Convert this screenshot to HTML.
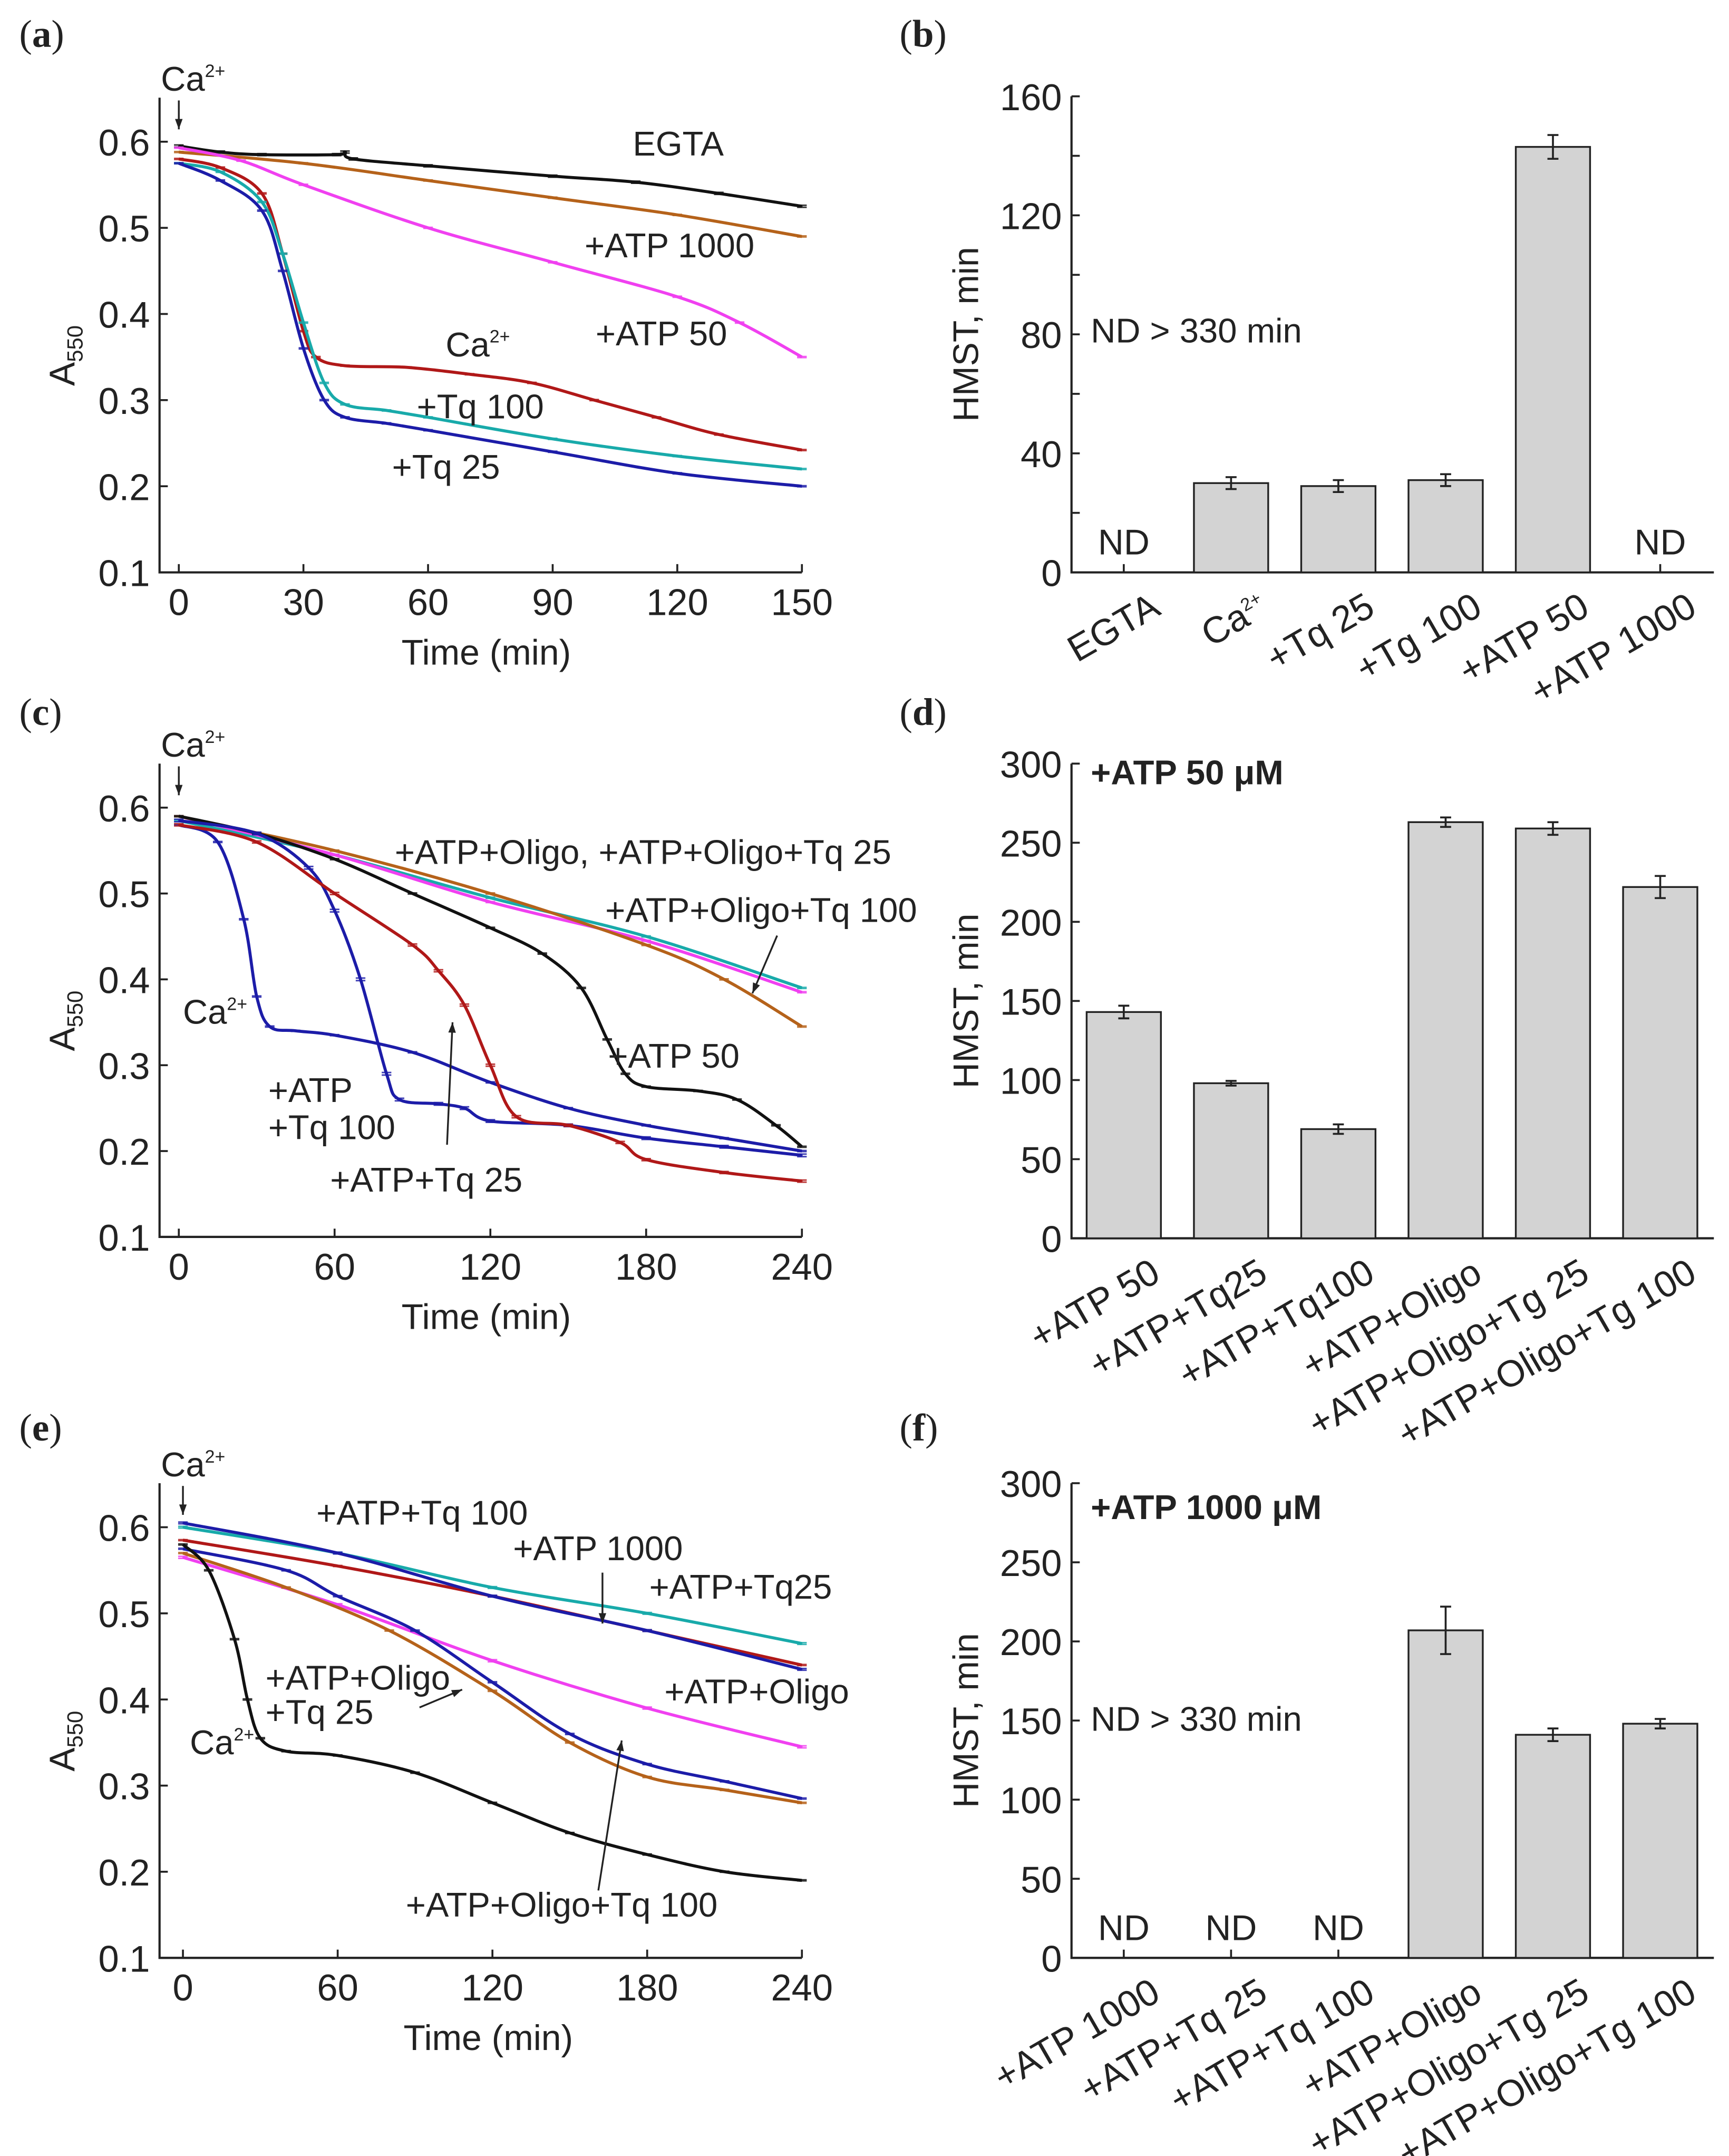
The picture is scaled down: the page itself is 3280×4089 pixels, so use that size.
<!DOCTYPE html>
<html><head><meta charset="utf-8"><style>
html,body{margin:0;padding:0;background:#fff}
svg{display:block}
text{font-family:"Liberation Sans",sans-serif;fill:#222}
.pl{font-family:"Liberation Serif",serif;font-size:28px}
</style></head><body>
<svg id="fig" xmlns="http://www.w3.org/2000/svg" width="3280" height="4089" viewBox="0 0 1257 1567" preserveAspectRatio="none">
<rect width="1257" height="1567" fill="#fff"/>
<g id="static">
<text class="pl" x="14" y="34">(<tspan font-weight="bold">a</tspan>)</text>
<text class="pl" x="654" y="34">(<tspan font-weight="bold">b</tspan>)</text>
<text class="pl" x="14" y="527">(<tspan font-weight="bold">c</tspan>)</text>
<text class="pl" x="654" y="527">(<tspan font-weight="bold">d</tspan>)</text>
<text class="pl" x="14" y="1047">(<tspan font-weight="bold">e</tspan>)</text>
<text class="pl" x="654" y="1047">(<tspan font-weight="bold">f</tspan>)</text>
</g>
<g id="dyn"></g>
</svg>
<script>
// ---------- Panel a data ----------
const aEGTA=[[0,.595],[10,.588],[20,.585],[38,.585],[40,.588],[42,.58],[60,.572],[90,.56],[110,.553],[130,.54],[150,.525]];
const aATP1000=[[0,.588],[30,.575],[60,.555],[90,.535],[120,.515],[150,.49]];
const aATP50=[[0,.593],[15,.578],[30,.55],[60,.5],[90,.46],[120,.42],[135,.39],[150,.35]];
const aCa=[[0,.58],[10,.57],[20,.54],[25,.47],[30,.38],[33,.35],[40,.34],[55,.338],[70,.33],[85,.32],[100,.3],[115,.28],[130,.26],[150,.242]];
const aTq100=[[0,.575],[10,.565],[20,.53],[25,.47],[30,.39],[35,.32],[40,.295],[50,.288],[60,.28],[90,.255],[120,.235],[150,.22]];
const aTq25=[[0,.575],[10,.555],[20,.52],[25,.45],[30,.36],[35,.3],[40,.28],[50,.273],[60,.265],[90,.24],[120,.215],[150,.2]];
// ---------- Panel c data ----------
const cOligo=[[0,.585],[60,.545],[120,.495],[180,.45],[240,.39]];
const cOligoTq25=[[0,.59],[60,.545],[120,.49],[180,.445],[240,.385]];
const cOligoTq100=[[0,.59],[60,.55],[120,.5],[180,.44],[210,.4],[240,.345]];
const cATP50=[[0,.59],[30,.57],[60,.54],[90,.5],[120,.46],[140,.43],[155,.39],[165,.33],[172,.29],[180,.275],[200,.27],[215,.26],[230,.23],[240,.205]];
const cCa=[[0,.58],[15,.56],[25,.47],[30,.38],[35,.345],[45,.34],[60,.335],[90,.315],[120,.28],[150,.25],[180,.23],[210,.215],[240,.2]];
const cTq100=[[0,.585],[30,.57],[50,.53],[60,.48],[70,.4],[80,.29],[85,.26],[100,.255],[110,.25],[120,.235],[150,.23],[180,.215],[210,.205],[240,.195]];
const cTq25=[[0,.58],[30,.56],[60,.5],[90,.44],[100,.41],[110,.37],[120,.3],[130,.24],[150,.23],[170,.21],[180,.19],[210,.175],[240,.165]];
// ---------- Panel e data ----------
const eCa=[[0,.58],[10,.55],[20,.47],[25,.4],[30,.355],[40,.34],[60,.335],[90,.315],[120,.28],[150,.245],[180,.22],[210,.2],[240,.19]];
const eTq100=[[0,.6],[60,.57],[120,.53],[180,.5],[240,.465]];
const eATP1000=[[0,.585],[60,.555],[120,.52],[180,.48],[240,.44]];
const eTq25=[[0,.605],[60,.57],[120,.52],[180,.48],[240,.435]];
const eOligo=[[0,.565],[60,.51],[120,.445],[180,.39],[240,.345]];
const eOligoTq25=[[0,.575],[40,.55],[60,.52],[90,.48],[120,.42],[150,.36],[180,.325],[210,.305],[240,.285]];
const eOligoTq100=[[0,.57],[40,.53],[80,.48],[120,.41],[150,.35],[180,.31],[210,.295],[240,.28]];
// ---------- Bar data ----------
const bCats=["EGTA","Ca2+","+Tq 25","+Tg 100","+ATP 50","+ATP 1000"];
const bVals=[null,30,29,31,143,null];
const bErr=[0,2,2,2,4,0];
const dCats=["+ATP 50","+ATP+Tq25","+ATP+Tq100","+ATP+Oligo","+ATP+Oligo+Tg 25","+ATP+Oligo+Tg 100"];
const dVals=[143,98,69,263,259,222];
const dErr=[4,1.5,3,3,4,7];
const fCats=["+ATP 1000","+ATP+Tq 25","+ATP+Tq 100","+ATP+Oligo","+ATP+Oligo+Tg 25","+ATP+Oligo+Tg 100"];
const fVals=[null,null,null,207,141,148];
const fErr=[0,0,0,15,4,3];
const aTicksX=[0,30,60,90,120,150];
const ceTicksX=[0,60,120,180,240];
const yTicksA=[0.1,0.2,0.3,0.4,0.5,0.6];

const NS="http://www.w3.org/2000/svg";
const root=document.getElementById('dyn');
function el(tag,attrs,parent,txt){const e=document.createElementNS(NS,tag);for(const k in attrs)e.setAttribute(k,attrs[k]);if(txt!==undefined)e.textContent=txt;(parent||root).appendChild(e);return e;}

function lineAxes(g,o){
  const sx=t=>o.x0+(t-o.t0)*(o.x1-o.x0)/(o.t1-o.t0);
  const sy=v=>o.y0+(v-0.6)*(o.y1-o.y0)/(0.1-0.6);
  const ax=el('path',{d:`M${o.axL},${o.top} V${o.y1} H${o.x1}`,stroke:'#222','stroke-width':1.6,fill:'none'},g);
  
  yTicksA.forEach(v=>{el('line',{x1:o.axL,x2:o.axL+6,y1:sy(v),y2:sy(v),stroke:'#222','stroke-width':1.4},g);
    const t=el('text',{x:o.axL-7,y:sy(v)+10,'text-anchor':'end','font-size':27},g,v.toFixed(1));
    });
  o.ticks.forEach(v=>{el('line',{x1:sx(v),x2:sx(v),y1:o.y1,y2:o.y1-6,stroke:'#222','stroke-width':1.4},g);
    const t=el('text',{x:sx(v),y:o.y1+31,'text-anchor':'middle','font-size':27},g,String(v));
    });
  const xt=el('text',{x:(o.x0+o.x1)/2-3,y:o.y1+67,'text-anchor':'middle','font-size':26},g,'Time (min)');
  
  const yt=el('text',{transform:`translate(${o.axL-62},${(o.top+o.y1)/2+15}) rotate(-90)`,'text-anchor':'middle','font-size':26},g);
  
  yt.innerHTML='A<tspan font-size="16" dy="6">550</tspan>';
  return {sx,sy};
}
function smooth(pts){
  let d='M'+pts[0][0].toFixed(1)+','+pts[0][1].toFixed(1);
  for(let i=0;i<pts.length-1;i++){
    const p0=pts[Math.max(0,i-1)],p1=pts[i],p2=pts[i+1],p3=pts[Math.min(pts.length-1,i+2)];
    const c1=[p1[0]+(p2[0]-p0[0])/6,p1[1]+(p2[1]-p0[1])/6],c2=[p2[0]-(p3[0]-p1[0])/6,p2[1]-(p3[1]-p1[1])/6];
    d+=`C${c1[0].toFixed(1)},${c1[1].toFixed(1)} ${c2[0].toFixed(1)},${c2[1].toFixed(1)} ${p2[0].toFixed(1)},${p2[1].toFixed(1)}`;
  }
  return d;
}
function series(g,s,data,color,name,err){
  const sg=el('g',{},g);
  
  
  const pts=data.map(p=>[s.sx(p[0]),s.sy(p[1])]);
  data.forEach(p=>{const x=s.sx(p[0]),y=s.sy(p[1]),e=(err||0.006)*(s.sy(0.5)-s.sy(0.6));
    el('path',{d:`M${x},${y-e}V${y+e}M${x-3.5},${y-e}h7M${x-3.5},${y+e}h7`,stroke:color,'stroke-width':1.1,fill:'none',opacity:.85},sg);});
  el('path',{d:smooth(pts),stroke:color,'stroke-width':2.2,fill:'none','stroke-linejoin':'round'},sg);
}
function label(g,x,y,txt,opts){const t=el('text',Object.assign({x,y,'font-size':25},opts||{}),g);t.innerHTML=txt;
  return t;}
function arrow(g,x1,y1,x2,y2){
  el('line',{x1,y1,x2,y2,stroke:'#222','stroke-width':1.3},g);
  const a=Math.atan2(y2-y1,x2-x1),L=8;
  el('path',{d:`M${x2},${y2}L${x2-L*Math.cos(a-0.35)},${y2-L*Math.sin(a-0.35)}L${x2-L*Math.cos(a+0.35)},${y2-L*Math.sin(a+0.35)}Z`,fill:'#222'},g);
}
const CA='Ca<tspan font-size="13" dy="-10">2+</tspan>';

// Panel a
{const g=el('g',{});
const s=lineAxes(g,{x0:130,x1:583,t0:0,t1:150,y0:103,y1:416,axL:116,top:71,ticks:aTicksX});
series(g,s,aEGTA,'#111','series-egta',0.012);
series(g,s,aATP1000,'#b5621a','series-atp1000');
series(g,s,aATP50,'#f040f0','series-atp50');
series(g,s,aCa,'#b01818','series-ca');
series(g,s,aTq100,'#18aaaa','series-tq100');
series(g,s,aTq25,'#1c1ca8','series-tq25');
label(g,117,66,CA);arrow(g,130,73,130,94);
label(g,460,113,'EGTA');label(g,425,187,'+ATP 1000');label(g,433,251,'+ATP 50');
label(g,324,259,CA);label(g,303,304,'+Tq 100');label(g,285,348,'+Tq 25');}

// Panel c
{const g=el('g',{});
const s=lineAxes(g,{x0:130,x1:583,t0:0,t1:240,y0:587,y1:899,axL:116,top:555,ticks:ceTicksX});
series(g,s,cOligo,'#18aaaa','series-atp-oligo');
series(g,s,cOligoTq25,'#f040f0','series-atp-oligo-tq25');
series(g,s,cOligoTq100,'#b5621a','series-atp-oligo-tq100');
series(g,s,cATP50,'#111','series-atp50');
series(g,s,cCa,'#1c1ca8','series-ca');
series(g,s,cTq100,'#1c1ca8','series-atp-tq100',0.015);
series(g,s,cTq25,'#b01818','series-atp-tq25',0.012);
label(g,117,550,CA);arrow(g,130,557,130,578);
label(g,287,628,'+ATP+Oligo, +ATP+Oligo+Tq 25');label(g,440,670,'+ATP+Oligo+Tq 100');
arrow(g,565,680,547,722);
label(g,133,744,CA);label(g,442,776,'+ATP 50');
label(g,195,801,'+ATP');label(g,195,828,'+Tq 100');label(g,240,866,'+ATP+Tq 25');
arrow(g,325,832,329,743);}

// Panel e
{const g=el('g',{});
const s=lineAxes(g,{x0:133,x1:583,t0:0,t1:240,y0:1110,y1:1423,axL:116,top:1078,ticks:ceTicksX});
series(g,s,eTq100,'#18aaaa','series-atp-tq100',0.01);
series(g,s,eATP1000,'#b01818','series-atp1000');
series(g,s,eTq25,'#1c1ca8','series-atp-tq25',0.01);
series(g,s,eOligo,'#f040f0','series-atp-oligo',0.012);
series(g,s,eOligoTq25,'#1c1ca8','series-atp-oligo-tq25');
series(g,s,eOligoTq100,'#b5621a','series-atp-oligo-tq100');
series(g,s,eCa,'#111','series-ca');
label(g,117,1073,CA);arrow(g,133,1080,133,1101);
label(g,230,1108,'+ATP+Tq 100');label(g,373,1134,'+ATP 1000');arrow(g,438,1143,438,1180);
label(g,472,1162,'+ATP+Tq25');label(g,483,1238,'+ATP+Oligo');
label(g,193,1228,'+ATP+Oligo');label(g,193,1253,'+Tq 25');arrow(g,305,1241,336,1228);
label(g,138,1275,CA);label(g,295,1393,'+ATP+Oligo+Tq 100');arrow(g,435,1374,452,1265);}

// Bar panels
function bars(name,cats,vals,errs,o){
  const g=el('g',{});
  const sy=v=>o.y0-(v/o.max)*(o.y0-o.yTop);
  const cx=i=>817+i*78;
  const ax=el('path',{d:`M779,${o.yTop} V${o.y0} H1246`,stroke:'#222','stroke-width':1.6,fill:'none'},g);
  
  for(let v=0;v<=o.max;v+=o.minor){el('line',{x1:779,x2:785,y1:sy(v),y2:sy(v),stroke:'#222','stroke-width':1.4},g);}
  for(let v=0;v<=o.max;v+=o.major){const t=el('text',{x:772,y:sy(v)+10,'text-anchor':'end','font-size':27},g,String(v));
    }
  const yt=el('text',{transform:`translate(711,${(o.yTop+o.y0)/2}) rotate(-90)`,'text-anchor':'middle','font-size':26},g,'HMST, min');
  
  cats.forEach((c,i)=>{
    el('line',{x1:cx(i),x2:cx(i),y1:o.y0,y2:o.y0-6,stroke:'#222','stroke-width':1.4},g);
    const v=vals[i];
    if(v==null){const t=el('text',{x:cx(i),y:o.y0-13,'text-anchor':'middle','font-size':26},g,'ND');
      }
    else{const r=el('rect',{x:cx(i)-27,y:sy(v),width:54,height:o.y0-sy(v),fill:'#d3d3d3',stroke:'#222','stroke-width':1.3},g);
      
      const e=errs[i];
      el('path',{d:`M${cx(i)},${sy(v+e)}V${sy(v-e)}M${cx(i)-4},${sy(v+e)}h8M${cx(i)-4},${sy(v-e)}h8`,stroke:'#222','stroke-width':1.4,fill:'none'},g);}
    const t=el('text',{transform:`translate(${cx(i)+28},${o.y0+30}) rotate(-30)`,'text-anchor':'end','font-size':27},g);
    t.innerHTML=c==='Ca2+'?CA:c;
    
  });
  return g;
}
const gb=bars('panel-b-chart',bCats,bVals,bErr,{y0:416,yTop:70,max:160,major:40,minor:20});
label(gb,793,249,'ND &gt; 330 min');
const gd=bars('panel-d-chart',dCats,dVals,dErr,{y0:900,yTop:555,max:300,major:50,minor:50});
label(gd,793,570,'+ATP 50 μM',{'font-weight':'bold'});
const gf=bars('panel-f-chart',fCats,fVals,fErr,{y0:1423,yTop:1078,max:300,major:50,minor:50});
label(gf,793,1104,'+ATP 1000 μM',{'font-weight':'bold'});
label(gf,793,1258,'ND &gt; 330 min');
</script>
</body></html>
